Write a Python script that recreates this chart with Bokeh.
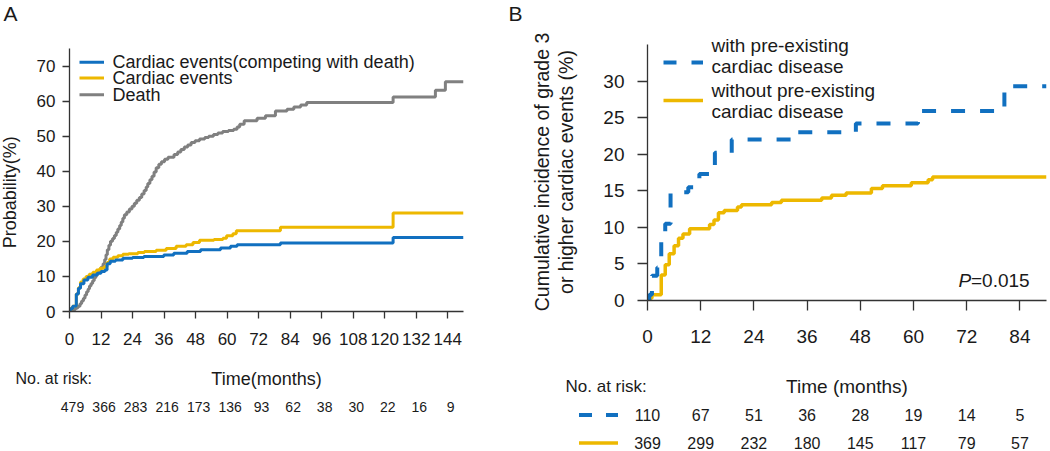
import math
from bokeh.plotting import figure
from bokeh.models import Range1d, FixedTicker
from bokeh.layouts import row, column
from bokeh.embed import file_html
from bokeh.resources import INLINE
from bokeh.core.properties import value

FONT = "Liberation Sans"
BLUE = "#1170C0"
YELLOW = "#EDB800"
GRAY = "#808080"
INK = "#1a1a1a"
AXIS = "#333333"

# ---------------- Panel A data ----------------
a_xticks = [0, 12, 24, 36, 48, 60, 72, 84, 96, 108, 120, 132, 144]
a_yticks = [0, 10, 20, 30, 40, 50, 60, 70]
a_risk = [479, 366, 283, 216, 173, 136, 93, 62, 38, 30, 22, 16, 9]

a_death_t = [0.8, 1.5, 2.3, 3.2, 4.0, 4.6, 5.3, 5.9, 6.5, 7.1, 7.6, 8.2, 8.8, 9.4, 10.0,
             10.6, 11.3, 12.0, 12.8, 13.4, 13.9, 14.4, 15.0, 15.6, 16.4, 17.1, 17.8, 18.4,
             19.1, 19.7, 20.3, 20.9, 21.8, 22.8, 23.8, 24.7, 25.6, 26.6, 27.5, 28.4, 29.2,
             29.8, 30.6, 31.4, 32.2, 33.0, 34.0, 35.0, 36.2, 37.5, 39.8, 41.2, 42.4, 43.7,
             45.0, 46.3, 47.8, 49.5, 51.5, 53.0, 54.8, 56.5, 58.3, 60.5, 62.5, 63.8, 64.8,
             66.5, 71.4, 74.6, 78.4, 82.8, 85.4, 88.0, 90.3, 123.2, 139.3, 143.1]
a_death_v = [0.3, 0.6, 1.0, 1.5, 2.2, 3.0, 3.8, 4.7, 5.6, 6.4, 7.3, 8.0, 8.8, 9.6, 10.3,
             11.0, 11.8, 12.6, 13.6, 14.8, 16.2, 17.6, 18.9, 20.0, 20.8, 21.7, 22.6, 23.5,
             24.5, 25.5, 26.6, 27.6, 28.4, 29.2, 30.0, 30.9, 31.7, 32.5, 33.5, 34.5, 35.5,
             36.5, 37.6, 38.6, 39.8, 41.0, 42.0, 42.7, 43.4, 44.0, 44.8, 45.5, 46.2, 46.9,
             47.5, 48.2, 48.7, 49.2, 49.6, 50.0, 50.5, 50.9, 51.3, 51.6, 52.0, 52.6, 53.4,
             54.4, 55.1, 55.8, 57.2, 57.7, 58.3, 58.9, 59.6, 61.2, 63.1, 65.5]

a_cardiac_t = [0.3, 1.2, 2.6, 3.4, 4.2, 5.2, 6.3, 7.5, 8.9, 10.3, 11.6, 13.3, 14.3, 15.3,
               16.6, 18.4, 20.3, 22.5, 26.0, 28.5, 33.0, 36.8, 40.6, 44.4, 47.0, 49.5, 55.0,
               58.4, 59.8, 62.2, 63.5, 80.3, 123.2]
a_cardiac_v = [0.8, 1.5, 5.0, 6.8, 8.4, 9.3, 10.0, 10.6, 11.2, 11.8, 12.3, 12.8, 14.0, 15.0,
               15.5, 15.9, 16.3, 16.5, 16.8, 17.1, 17.5, 18.0, 18.6, 19.0, 19.7, 20.3, 20.5,
               20.9, 21.6, 22.2, 23.0, 24.0, 28.1]

a_compet_t = [0.3, 1.2, 2.6, 3.4, 4.2, 5.5, 7.0, 8.8, 10.5, 12.0, 13.5, 14.3, 15.5, 17.5,
              20.3, 24.0, 28.3, 35.9, 39.7, 44.8, 49.9, 57.5, 61.3, 63.8, 80.3, 123.2]
a_compet_v = [0.8, 1.5, 5.0, 6.6, 7.9, 9.0, 9.8, 10.4, 10.9, 11.4, 11.8, 13.6, 14.3, 14.7,
              15.2, 15.4, 15.7, 16.1, 16.6, 17.1, 17.6, 18.1, 18.6, 19.0, 19.5, 21.1]

a_labels = ["Cardiac events(competing with death)", "Cardiac events", "Death"]
a_ylabel = "Probability(%)"

# ---------------- Panel B data ----------------
b_xticks = [0, 12, 24, 36, 48, 60, 72, 84]
b_yticks = [0, 5, 10, 15, 20, 25, 30]
b_risk_with = [110, 67, 51, 36, 28, 19, 14, 5]
b_risk_without = [369, 299, 232, 180, 145, 117, 79, 57]

b_with_t = [0.4, 1.0, 2.2, 3.1, 4.0, 5.2, 9.2, 11.7, 15.2, 19.0, 34.0, 47.0, 61.0, 80.5]
b_with_v = [0.8, 3.4, 4.5, 8.0, 10.5, 14.8, 15.5, 17.3, 20.2, 22.0, 23.0, 24.2, 25.9, 29.3]

b_without_t = [0.2, 1.0, 3.1, 4.0, 4.9, 6.0, 7.0, 8.0, 9.5, 14.0, 15.0, 16.0, 17.3, 20.3,
               21.2, 28.0, 30.2, 39.3, 41.5, 44.8, 50.5, 53.0, 59.5, 63.3, 64.3]
b_without_v = [0.3, 0.8, 3.5, 4.9, 6.4, 7.5, 8.5, 9.1, 9.8, 10.4, 11.0, 12.0, 12.3, 12.8,
               13.1, 13.4, 13.7, 14.0, 14.4, 14.7, 15.3, 15.7, 16.1, 16.5, 16.9]

b_labels = [["with pre-existing", "cardiac disease"], ["without pre-existing", "cardiac disease"]]
b_ylabel = ["Cumulative incidence of grade 3", "or higher cardiac events (%)"]
b_pvalue = "=0.015"

# ---------------- layout constants (pixels) ----------------
HEAD_H = 28          # strip holding the panel letter
MAIN_H = 325         # main plot canvas height
TAB_H = 98           # number-at-risk strip height

A_W = 505            # whole panel A width
A_LAB_W = 28         # strip for the rotated y label
A_L, A_R, A_T, A_B = 41, 42, 20, 42
A_XMAX, A_YMAX = 150, 75

B_W = 545
B_LAB_W = 75
B_L, B_R, B_T, B_B = 67, 4, 0, 53
B_XMAX, B_YMAX = 90, 35
B_AXIS_PX = 256      # pixel height of the 0..35 axis


def stepxy(t, v, end):
    return [0] + list(t) + [end], [0] + list(v) + [v[-1]]


def bare(p):
    p.outline_line_color = None
    p.xgrid.visible = False
    p.ygrid.visible = False


def style(p, fs, tick_out, xstand, ystand):
    bare(p)
    for ax in (p.xaxis[0], p.yaxis[0]):
        ax.axis_line_color = AXIS
        ax.axis_line_width = 1.3
        ax.major_tick_line_color = AXIS
        ax.major_tick_line_width = 1.3
        ax.major_tick_in = 0
        ax.major_tick_out = tick_out
        ax.minor_tick_line_color = None
        ax.major_label_text_font = FONT
        ax.major_label_text_font_size = fs
        ax.major_label_text_color = INK
    p.xaxis[0].major_label_standoff = xstand
    p.yaxis[0].major_label_standoff = ystand


def txt(p, x, y, text, size, align="left", baseline="middle", style="normal", **kw):
    p.text(x=[x], y=[y], text=[text], text_font=value(FONT), text_font_size=size,
           text_align=align, text_baseline=baseline, text_font_style=style,
           text_color=INK, **kw)


def strip(w, h, xr, yr):
    f = figure(width=w, height=h, x_range=xr, y_range=yr, output_backend="svg",
               toolbar_location=None, title=None, x_axis_type=None, y_axis_type=None,
               min_border_left=0, min_border_right=0, min_border_top=0, min_border_bottom=0,
               frame_align=False)
    bare(f)
    return f


# ================= Panel A =================
fw_a = A_W - A_LAB_W - A_L - A_R
fh_a = MAIN_H - A_T - A_B
pxa = fw_a / A_XMAX          # pixels per month
pya = fh_a / A_YMAX          # pixels per percent
A_X0 = A_LAB_W + A_L         # page x of month 0
A_Y0 = HEAD_H + A_T + fh_a   # page y of the x axis


def ax_(px):  # page x -> month
    return (px - A_X0) / pxa


def ay_(py):  # page y -> percent
    return (A_Y0 - py) / pya


ha = strip(A_W, HEAD_H, Range1d(0, A_W), Range1d(HEAD_H, 0))
txt(ha, 3, 12.5, "A", "21px")

la = strip(A_LAB_W, MAIN_H, Range1d(0, A_LAB_W), Range1d(HEAD_H + MAIN_H, HEAD_H))
txt(la, 9.5, 191.7, a_ylabel, "18px", align="center", angle=math.pi / 2)

pa = figure(width=A_W - A_LAB_W, height=MAIN_H, x_range=Range1d(0, A_XMAX),
            y_range=Range1d(0, A_YMAX), output_backend="svg", toolbar_location=None,
            title=None, frame_align=False,
            min_border_left=A_L, min_border_right=A_R, min_border_top=A_T, min_border_bottom=A_B)
style(pa, "17px", 7, 14, 7)
pa.xaxis[0].ticker = FixedTicker(ticks=a_xticks)
pa.yaxis[0].ticker = FixedTicker(ticks=a_yticks)

for t, v, c in ((a_death_t, a_death_v, GRAY), (a_cardiac_t, a_cardiac_v, YELLOW),
                (a_compet_t, a_compet_v, BLUE)):
    xs, ys = stepxy(t, v, A_XMAX)
    pa.step(xs, ys, mode="after", line_color=c, line_width=3)

for name, c, py in zip(a_labels, (BLUE, YELLOW, GRAY), (61.7, 77.5, 94.3)):
    pa.line([ax_(79), ax_(103.5)], [ay_(py)] * 2, line_color=c, line_width=3)
    txt(pa, ax_(112), ay_(py), name, "18px")

ta = strip(A_W, TAB_H, Range1d(-A_X0 / pxa, (A_W - A_X0) / pxa), Range1d(TAB_H, 0))
ta.text(x=a_xticks, y=[53] * len(a_xticks), text=[str(n) for n in a_risk],
        text_align="center", text_baseline="middle", text_font=value(FONT),
        text_font_size="14px", text_color=INK, x_offset=3)
txt(ta, ax_(15), 25, "No. at risk:", "16px")
txt(ta, A_XMAX / 2, 25, "Time(months)", "18px", align="center")

# ================= Panel B =================
B_PX0 = A_W                          # page x of panel B
fw_b = B_W - B_LAB_W - B_L - B_R
fh_b = MAIN_H - B_T - B_B
pxb = fw_b / B_XMAX
pyb = B_AXIS_PX / B_YMAX
B_X0 = B_PX0 + B_LAB_W + B_L         # page x of month 0
B_Y0 = HEAD_H + B_T + fh_b           # page y of the x axis


def bx_(px):
    return (px - B_X0) / pxb


def by_(py):
    return (B_Y0 - py) / pyb


hb = strip(B_W, HEAD_H, Range1d(0, B_W), Range1d(HEAD_H, 0))
txt(hb, 3, 12.5, "B", "21px")

lb = strip(B_LAB_W, MAIN_H, Range1d(B_PX0, B_PX0 + B_LAB_W), Range1d(HEAD_H + MAIN_H, HEAD_H))
txt(lb, 541.7, 171.5, b_ylabel[0], "19.5px", align="center", angle=math.pi / 2)
txt(lb, 565.0, 171.5, b_ylabel[1], "19.5px", align="center", angle=math.pi / 2)

pb = figure(width=B_W - B_LAB_W, height=MAIN_H, x_range=Range1d(0, B_XMAX),
            y_range=Range1d(0, fh_b / pyb),
            output_backend="svg", toolbar_location=None, title=None, frame_align=False,
            min_border_left=B_L, min_border_right=B_R, min_border_top=B_T, min_border_bottom=B_B)
style(pb, "19px", 10, 19, 13)
pb.xaxis[0].ticker = FixedTicker(ticks=b_xticks)
pb.yaxis[0].ticker = FixedTicker(ticks=b_yticks)
pb.yaxis[0].bounds = (0, B_YMAX)

xs, ys = stepxy(b_without_t, b_without_v, B_XMAX)
pb.step(xs, ys, mode="after", line_color=YELLOW, line_width=3.5)
xs, ys = stepxy(b_with_t, b_with_v, B_XMAX)
pb.step(xs, ys, mode="after", line_color=BLUE, line_width=4, line_dash="14 15")

pb.line([bx_(663), bx_(702.5)], [by_(62)] * 2, line_color=BLUE, line_width=4, line_dash="13 15")
pb.line([bx_(663), bx_(702.5)], [by_(100)] * 2, line_color=YELLOW, line_width=3.5)
for (l1, l2), (y1, y2) in zip(b_labels, ((44.6, 65.5), (89.6, 110.6))):
    txt(pb, bx_(711), by_(y1), l1, "19px")
    txt(pb, bx_(711), by_(y2), l2, "19px")

txt(pb, bx_(958), by_(280), "P", "19px", style="italic")
txt(pb, bx_(970.5), by_(280), b_pvalue, "19px")

tb = strip(B_W, TAB_H, Range1d(-(B_X0 - B_PX0) / pxb, (B_PX0 + B_W - B_X0) / pxb),
           Range1d(TAB_H, 0))
tb.text(x=b_xticks, y=[61.5] * len(b_xticks), text=[str(n) for n in b_risk_with],
        text_align="center", text_baseline="middle", text_font=value(FONT),
        text_font_size="16px", text_color=INK)
tb.text(x=b_xticks, y=[89.5] * len(b_xticks), text=[str(n) for n in b_risk_without],
        text_align="center", text_baseline="middle", text_font=value(FONT),
        text_font_size="16px", text_color=INK)
txt(tb, bx_(565), 33, "No. at risk:", "17px")
txt(tb, 45, 33, "Time (months)", "19px", align="center")
tb.line([bx_(578.5), bx_(617.5)], [61.5, 61.5], line_color=BLUE, line_width=4, line_dash="13 14")
tb.line([bx_(578.5), bx_(617.5)], [89.5, 89.5], line_color=YELLOW, line_width=3.5)

layout = row(column(ha, row(la, pa), ta), column(hb, row(lb, pb), tb))
open("out.html", "w").write(file_html(layout, INLINE))
